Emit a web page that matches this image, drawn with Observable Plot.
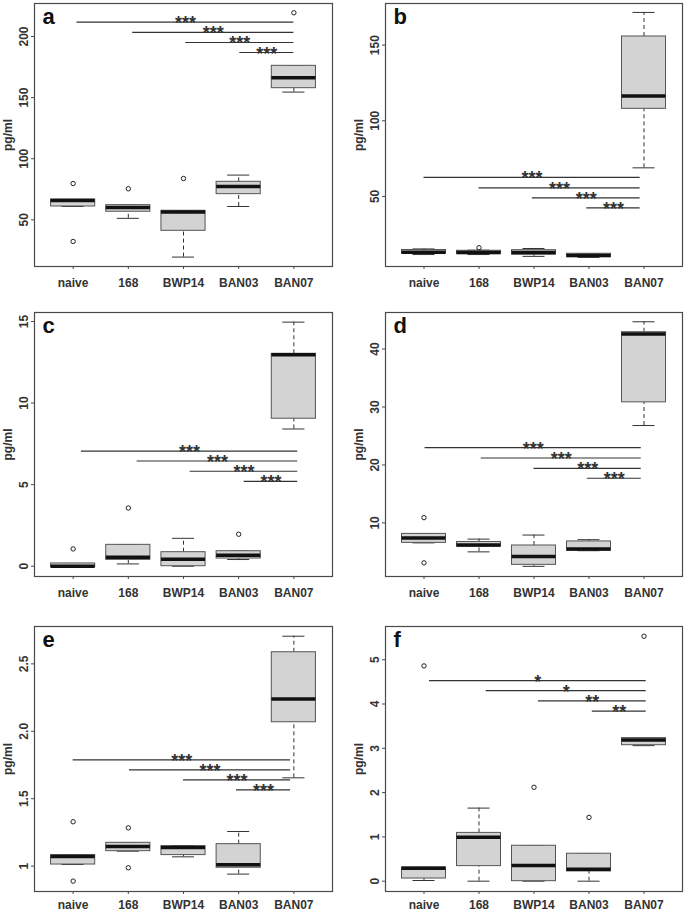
<!DOCTYPE html>
<html><head><meta charset="utf-8">
<script src="https://cdn.jsdelivr.net/npm/d3@7"></script>
<script src="https://cdn.jsdelivr.net/npm/@observablehq/plot@0.6"></script>
<style>
body{margin:0;background:#fff;}
#fig{position:relative;width:685px;height:911px;overflow:hidden;background:#fff;font-family:"Liberation Sans",Arial,sans-serif;}
#fig svg{position:absolute;overflow:visible;}
</style></head><body><div id="fig"></div>
<script>
const categories = ["naive", "168", "BWP14", "BAN03", "BAN07"];

// panel a
const aQ1 = [60.9, 56.6, 41.0, 71.0, 157.7];
const aMed = [65.8, 60.1, 56.3, 77.3, 166.2];
const aQ3 = [66.6, 62.0, 57.4, 81.1, 176.0];
const aLo = [60.9, 51.2, 19.5, 60.9, 154.5];
const aHi = [66.6, 62.0, 57.4, 86.6, 176.0];
const aOutCat = ["naive", "naive", "168", "BWP14", "BAN07"];
const aOutVal = [79.7, 32.3, 75.4, 83.8, 219.4];
const aTicks = [50, 100, 150, 200];
const aSigY = [211.7, 203.3, 195.1, 186.9];
const aSigFrom = [1.07, 2.08, 3.04, 4.02];
const aSigTo = 5.0;
const aSigLabel = ["***", "***", "***", "***"];

// panel b
const bQ1 = [12.2, 11.9, 11.5, 9.9, 107.9];
const bMed = [13.1, 13.0, 13.0, 11.0, 116.3];
const bQ3 = [14.6, 14.1, 14.5, 12.1, 155.7];
const bLo = [11.6, 11.6, 10.4, 9.7, 68.9];
const bHi = [15.3, 14.5, 15.6, 12.3, 171.6];
const bOutCat = ["168"];
const bOutVal = [16.1];
const bTicks = [50, 100, 150];
const bSigY = [62.6, 55.7, 49.1, 42.5];
const bSigFrom = [1.0, 2.0, 2.97, 3.96];
const bSigTo = 4.93;
const bSigLabel = ["***", "***", "***", "***"];

// panel c
const cQ1 = [-0.05, 0.39, 0.0, 0.47, 9.04];
const cMed = [0.0, 0.55, 0.43, 0.67, 12.96];
const cQ3 = [0.17, 1.31, 0.86, 0.92, 13.02];
const cLo = [-0.05, 0.14, 0.0, 0.41, 8.41];
const cHi = [0.17, 1.31, 1.71, 0.92, 14.96];
const cOutCat = ["naive", "168", "BAN03"];
const cOutVal = [1.06, 3.57, 1.96];
const cTicks = [0, 5, 10, 15];
const cSigY = [7.06, 6.45, 5.82, 5.20];
const cSigFrom = [1.15, 2.16, 3.12, 4.10];
const cSigTo = 5.07;
const cSigLabel = ["***", "***", "***", "***"];

// panel d
const dQ1 = [6.55, 5.9, 2.76, 5.2, 30.8];
const dMed = [7.4, 6.2, 4.2, 5.5, 42.6];
const dQ3 = [8.1, 6.7, 6.1, 6.8, 42.9];
const dLo = [6.55, 5.0, 2.5, 5.2, 26.8];
const dHi = [8.1, 7.2, 7.9, 7.1, 44.7];
const dOutCat = ["naive", "naive"];
const dOutVal = [10.9, 3.1];
const dTicks = [10, 20, 30, 40];
const dSigY = [23.0, 21.2, 19.4, 17.7];
const dSigFrom = [1.02, 2.04, 3.0, 3.97];
const dSigTo = 4.95;
const dSigLabel = ["***", "***", "***", "***"];

// panel e
const eQ1 = [1.012, 1.111, 1.082, 0.988, 2.067];
const eMed = [1.072, 1.146, 1.138, 1.010, 2.240];
const eQ3 = [1.082, 1.173, 1.148, 1.163, 2.586];
const eLo = [1.012, 1.111, 1.069, 0.941, 1.655];
const eHi = [1.082, 1.173, 1.153, 1.257, 2.705];
const eOutCat = ["naive", "naive", "168", "168"];
const eOutVal = [1.329, 0.889, 1.284, 0.988];
const eTicks = [1, 1.5, 2, 2.5];
const eTickLabels = ["1", "1.5", "2.0", "2.5"];
const eSigY = [1.788, 1.714, 1.640, 1.566];
const eSigFrom = [1.0, 2.02, 3.0, 3.96];
const eSigTo = 4.94;
const eSigLabel = ["***", "***", "***", "***"];

// panel f
const fQ1 = [0.06, 0.34, 0.0, 0.22, 3.07];
const fMed = [0.29, 0.99, 0.354, 0.27, 3.19];
const fQ3 = [0.31, 1.09, 0.80, 0.62, 3.23];
const fLo = [0.015, 0.0, 0.0, 0.0, 3.06];
const fHi = [0.31, 1.65, 0.80, 0.62, 3.23];
const fOutCat = ["naive", "BWP14", "BAN03", "BAN07"];
const fOutVal = [4.86, 2.12, 1.44, 5.53];
const fTicks = [0, 1, 2, 3, 4, 5];
const fSigY = [4.53, 4.30, 4.07, 3.84];
const fSigFrom = [1.10, 2.13, 3.08, 4.06];
const fSigTo = 5.04;
const fSigLabel = ["*", "*", "**", "**"];

// layout (frame rectangles in page pixels) and y-scale domains
const panels = [
  {letter: "a", fx: [34, 332], fy: [3, 266], pad: 9, dom: [11.8, 227.0], q1: aQ1, med: aMed, q3: aQ3, lo: aLo, hi: aHi, oc: aOutCat, ov: aOutVal, ticks: aTicks, sy: aSigY, sf: aSigFrom, st: aSigTo, sl: aSigLabel},
  {letter: "b", fx: [385, 682], fy: [3, 266], pad: 9, dom: [3.7, 177.5], q1: bQ1, med: bMed, q3: bQ3, lo: bLo, hi: bHi, oc: bOutCat, ov: bOutVal, ticks: bTicks, sy: bSigY, sf: bSigFrom, st: bSigTo, sl: bSigLabel},
  {letter: "c", fx: [34, 332], fy: [312, 576], pad: 9, dom: [-0.63, 15.55], q1: cQ1, med: cMed, q3: cQ3, lo: cLo, hi: cHi, oc: cOutCat, ov: cOutVal, ticks: cTicks, sy: cSigY, sf: cSigFrom, st: cSigTo, sl: cSigLabel},
  {letter: "d", fx: [385, 682], fy: [312, 576], pad: 9, dom: [0.75, 46.3], q1: dQ1, med: dMed, q3: dQ3, lo: dLo, hi: dHi, oc: dOutCat, ov: dOutVal, ticks: dTicks, sy: dSigY, sf: dSigFrom, st: dSigTo, sl: dSigLabel},
  {letter: "e", fx: [34, 332], fy: [626, 891], pad: 6, dom: [0.812, 2.777], q1: eQ1, med: eMed, q3: eQ3, lo: eLo, hi: eHi, oc: eOutCat, ov: eOutVal, ticks: eTicks, tl: eTickLabels, sy: eSigY, sf: eSigFrom, st: eSigTo, sl: eSigLabel},
  {letter: "f", fx: [385, 682], fy: [626, 891], pad: 6, dom: [-0.233, 5.75], q1: fQ1, med: fMed, q3: fQ3, lo: fLo, hi: fHi, oc: fOutCat, ov: fOutVal, ticks: fTicks, sy: fSigY, sf: fSigFrom, st: fSigTo, sl: fSigLabel}
];

const ML = 40, MR = 4, MT = 4, MB = 30;
const fig = document.getElementById("fig");
const lineCol = "#4a4a4a";

for (const p of panels) {
  const rows = categories.map((c, k) => ({i: k + 1, q1: p.q1[k], med: p.med[k], q3: p.q3[k], lo: p.lo[k], hi: p.hi[k]}));
  const outs = p.oc.map((c, k) => ({i: categories.indexOf(c) + 1, v: p.ov[k]}));
  const sig = p.sy.map((y, k) => ({y, x1: p.sf[k], x2: p.st, label: p.sl[k]}));
  const fw = p.fx[1] - p.fx[0], fh = p.fy[1] - p.fy[0];
  const chart = Plot.plot({
    width: ML + fw + MR,
    height: MT + fh + MB,
    marginLeft: ML, marginRight: MR, marginTop: MT, marginBottom: MB,
    style: {fontFamily: "Liberation Sans, Arial, sans-serif", background: "transparent", overflow: "visible"},
    x: {type: "linear", domain: [0.3, 5.7]},
    y: {type: "linear", domain: p.dom},
    marks: [
      Plot.axisX({ticks: [1, 2, 3, 4, 5], tickFormat: d => categories[d - 1], tickSize: 3, tickPadding: p.pad, fontSize: 12, fontWeight: "bold", color: "#333", stroke: lineCol, label: null}),
      Plot.axisY({ticks: p.ticks, tickFormat: p.tl ? (d => p.tl[p.ticks.indexOf(d)]) : (d => String(d)), tickSize: 3, tickPadding: 4, tickRotate: -90, fontSize: 12, fontWeight: "bold", color: "#333", stroke: lineCol, label: "pg/ml", labelAnchor: "center", labelArrow: "none", labelOffset: 31}),
      Plot.ruleX(rows, {x: "i", y1: "q3", y2: "hi", stroke: "#333", strokeDasharray: "4,3"}),
      Plot.ruleX(rows, {x: "i", y1: "lo", y2: "q1", stroke: "#333", strokeDasharray: "4,3"}),
      Plot.ruleY(rows, {y: "hi", x1: d => d.i - 0.2, x2: d => d.i + 0.2, stroke: "#333"}),
      Plot.ruleY(rows, {y: "lo", x1: d => d.i - 0.2, x2: d => d.i + 0.2, stroke: "#333"}),
      Plot.rect(rows, {x1: d => d.i - 0.4, x2: d => d.i + 0.4, y1: "q1", y2: "q3", fill: "#d3d3d3", stroke: "#555"}),
      Plot.ruleY(rows, {y: "med", x1: d => d.i - 0.4, x2: d => d.i + 0.4, stroke: "#111", strokeWidth: 3.5}),
      Plot.dot(outs, {x: "i", y: "v", r: 2.2, stroke: "#222", strokeWidth: 1}),
      Plot.ruleY(sig, {y: "y", x1: "x1", x2: "x2", stroke: "#333", strokeWidth: 1.2}),
      Plot.text(sig, {x: d => (d.x1 + d.x2) / 2, y: "y", text: "label", fontSize: 18, fontWeight: "bold", fill: "#333", lineAnchor: "bottom", dy: 7}),
      Plot.frame({stroke: lineCol, strokeWidth: 1.2}),
      Plot.text([p.letter], {frameAnchor: "top-left", text: d => d, dx: 8, dy: 5, fontSize: 22, fontWeight: "bold", fill: "#111", lineAnchor: "top"})
    ]
  });
  chart.style.left = (p.fx[0] - ML) + "px";
  chart.style.top = (p.fy[0] - MT) + "px";
  fig.appendChild(chart);
}
</script>
</body></html>
